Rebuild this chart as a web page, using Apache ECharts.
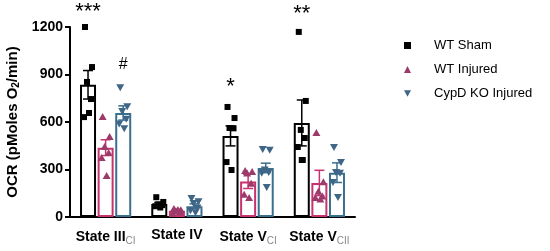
<!DOCTYPE html>
<html>
<head>
<meta charset="utf-8">
<script src="https://cdn.jsdelivr.net/npm/echarts@6/dist/echarts.min.js"></script>
<style>
  html, body { margin: 0; padding: 0; background: #fff; }
  #chart { width: 550px; height: 251px; }
</style>
</head>
<body>
<div id="chart"></div>
<script>
// categories (main text + subscript)
const catMain = ['State III', 'State IV', 'State V', 'State V'];
const catSub = ['CI', '', 'CI', 'CII'];
const groups = ['WT Sham', 'WT Injured', 'CypD KO Injured'];

// bar heights (mean) and SEM, per group, per category
const shamMean = [835, 82, 512, 594];
const injMean = [438, 40, 225, 215];
const koMean = [657, 68, 310, 280];
const shamSem = [90, 10, 63, 145];
const injSem = [50, 8, 45, 80];
const koSem = [45, 15, 30, 62];

// individual animals
const shamPts = [
  [1200, 947, 853, 745, 631, 657],
  [125, 95, 80, 75, 68, 60],
  [695, 625, 562, 560, 347, 297],
  [1169, 733, 550, 499, 442, 360, 360]
];
const injPts = [
  [631, 505, 442, 404, 372, 259],
  [50, 42, 36, 30, 22, 45],
  [290, 285, 275, 210, 140, 120],
  [530, 220, 160, 130, 120, 110]
];
const koPts = [
  [820, 700, 670, 620, 590, 560],
  [120, 100, 88, 60, 42, 30],
  [430, 425, 300, 285, 280, 190],
  [442, 347, 284, 280, 221, 126]
];

// significance marks: [category, group, value, text]
const marks = [
  [0, 0, 1295, '***'],
  [0, 2, 960, '#'],
  [2, 0, 820, '*'],
  [3, 0, 1282, '**']
];

const yTicks = [0, 300, 600, 900, 1200];

const lineColors = ['#000000', '#c8336e', '#3b6f8e'];
const dotColors = ['#000000', '#9c3a6c', '#3f6587'];
const barW = 16;
const step = 17.6;
const jitter = [-3, 4, -1, 3, -4, 1, 0];

const means = [shamMean, injMean, koMean];
const sems = [shamSem, injSem, koSem];
const pts = [shamPts, injPts, koPts];

const errData = [];
const ptData = [];
for (let g = 0; g < 3; g++) {
  for (let c = 0; c < catMain.length; c++) {
    errData.push([c, means[g][c], sems[g][c], g]);
    pts[g][c].forEach((v, i) => ptData.push([c, v, g, i]));
  }
}

function errItem(params, api) {
  const c = api.value(0), m = api.value(1), s = api.value(2), g = api.value(3);
  const off = (g - 1) * step;
  const top = api.coord([c, m + s]);
  const bot = api.coord([c, Math.max(m - s, 0)]);
  const x = top[0] + off;
  const st = { stroke: lineColors[g], lineWidth: 1.5 };
  return {
    type: 'group',
    children: [
      { type: 'line', shape: { x1: x, y1: top[1], x2: x, y2: bot[1] }, style: st },
      { type: 'line', shape: { x1: x - 5, y1: top[1], x2: x + 5, y2: top[1] }, style: st },
      { type: 'line', shape: { x1: x - 5, y1: bot[1], x2: x + 5, y2: bot[1] }, style: st }
    ]
  };
}

function ptItem(params, api) {
  const c = api.value(0), v = api.value(1), g = api.value(2), i = api.value(3);
  const p = api.coord([c, v]);
  const x = p[0] + (g - 1) * step + jitter[i % jitter.length];
  const y = p[1];
  const col = dotColors[g];
  if (g === 0) {
    return { type: 'rect', shape: { x: x - 3, y: y - 3, width: 6, height: 6 }, style: { fill: col } };
  }
  const pnts = g === 1
    ? [[x, y - 4], [x - 4, y + 3], [x + 4, y + 3]]
    : [[x - 4, y - 3], [x + 4, y - 3], [x, y + 4]];
  return { type: 'polygon', shape: { points: pnts }, style: { fill: col } };
}

function markItem(params, api) {
  const c = api.value(0), g = api.value(1), v = api.value(2);
  const p = api.coord([c, v]);
  const txt = marks[params.dataIndex][3];
  return {
    type: 'text',
    x: p[0] + (g - 1) * step,
    y: p[1],
    style: {
      text: txt, fill: '#000', align: 'center', verticalAlign: 'middle',
      font: (txt === '#' ? '16px' : '22px') + ' "Liberation Sans", Arial, sans-serif'
    }
  };
}

const chart = echarts.init(document.getElementById('chart'));
chart.setOption({
  animation: false,
  textStyle: { fontFamily: '"Liberation Sans", Arial, sans-serif' },
  grid: { left: 70, right: 195, top: 27, bottom: 34, containLabel: false, outerBoundsMode: 'none' },
  legend: {
    orient: 'vertical',
    left: 399,
    top: 34,
    itemWidth: 7,
    itemHeight: 7,
    itemGap: 11,
    textStyle: { fontSize: 13, color: '#000', padding: [0, 0, 0, 18] },
    data: [
      { name: groups[0], icon: 'rect', itemStyle: { color: dotColors[0], borderWidth: 0 } },
      { name: groups[1], icon: 'triangle', itemStyle: { color: dotColors[1], borderWidth: 0 } },
      { name: groups[2], icon: 'path://M0,0L10,0L5,9Z', itemStyle: { color: dotColors[2], borderWidth: 0 } }
    ]
  },
  xAxis: {
    type: 'category',
    data: catMain.map((m, i) => catSub[i] ? '{a|' + m + '}{b|' + catSub[i] + '}' : '{a|' + m + '}'),
    axisLine: { lineStyle: { color: '#000', width: 2 } },
    axisTick: { alignWithLabel: true, length: 5, lineStyle: { color: '#000', width: 2 } },
    axisLabel: {
      interval: 0,
      margin: 11,
      rich: {
        a: { fontSize: 14, fontWeight: 'bold', color: '#000' },
        b: { fontSize: 10, color: '#888', padding: [8, 0, 0, 0] }
      }
    }
  },
  yAxis: {
    type: 'value',
    min: 0,
    max: 1200,
    interval: 300,
    name: '{a|OCR (pMoles O}{s|2}{a|/min)}',
    nameLocation: 'middle',
    nameGap: 36,
    nameTextStyle: {
      rich: {
        a: { fontSize: 15, fontWeight: 'bold', color: '#000' },
        s: { fontSize: 10, fontWeight: 'bold', color: '#000', padding: [6, 0, 0, 0] }
      }
    },
    axisLine: { show: true, lineStyle: { color: '#000', width: 2 } },
    axisTick: { show: true, length: 5, lineStyle: { color: '#000', width: 2 } },
    axisLabel: { fontSize: 14, fontWeight: 'bold', color: '#000', margin: 7,
      formatter: v => yTicks.indexOf(v) >= 0 ? String(v) : '' },
    splitLine: { show: false }
  },
  series: [
    { name: groups[0], type: 'bar', data: shamMean, barWidth: barW, barGap: '10%',
      itemStyle: { color: '#fff', borderColor: lineColors[0], borderWidth: 2 } },
    { name: groups[1], type: 'bar', data: injMean, barWidth: barW, barGap: '10%',
      itemStyle: { color: '#fff', borderColor: lineColors[1], borderWidth: 2 } },
    { name: groups[2], type: 'bar', data: koMean, barWidth: barW, barGap: '10%',
      itemStyle: { color: '#fff', borderColor: lineColors[2], borderWidth: 2 } },
    { type: 'custom', renderItem: errItem, data: errData, z: 3 },
    { type: 'custom', renderItem: ptItem, data: ptData, z: 4 },
    { type: 'custom', renderItem: markItem, data: marks.map(m => [m[0], m[1], m[2]]), clip: false, z: 5 }
  ]
});
</script>
</body>
</html>
